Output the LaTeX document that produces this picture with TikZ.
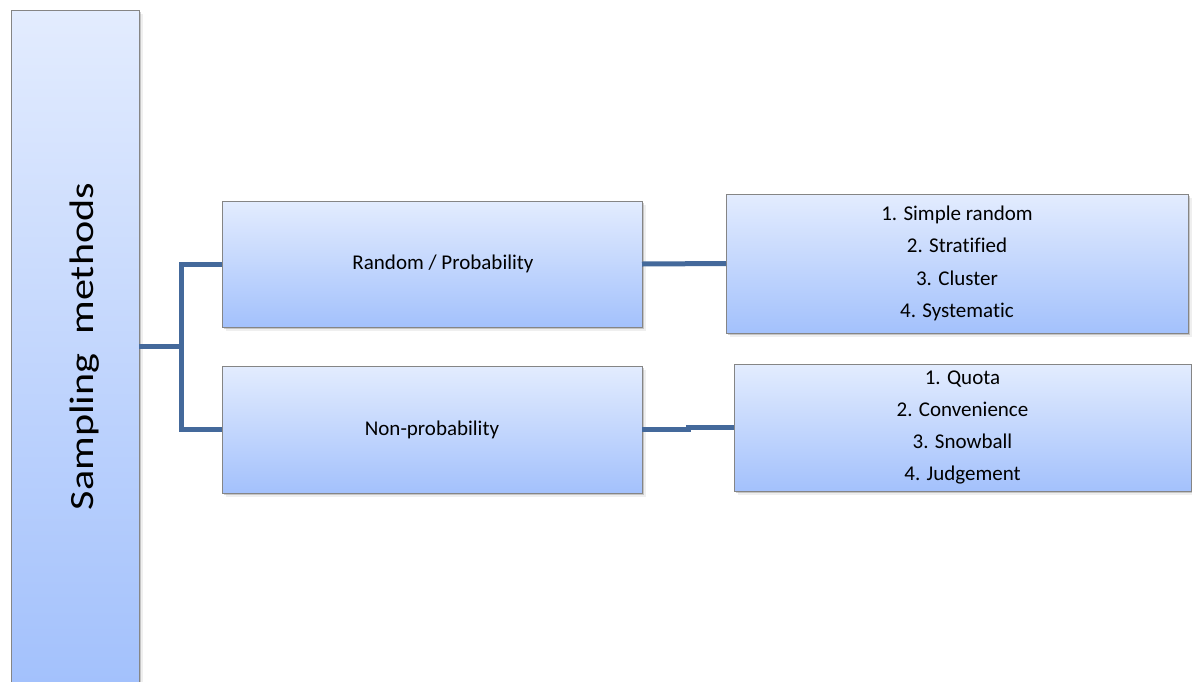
\documentclass[tikz,border=0pt]{standalone}
\usepackage{fontspec}
\setmainfont[Ligatures=NoCommon]{Carlito}
\usetikzlibrary{shadows}

\definecolor{boxtop}{HTML}{E3ECFE}
\definecolor{boxbottom}{HTML}{A3C1FC}
\definecolor{boxedge}{HTML}{858585}
\definecolor{linkblue}{HTML}{44699B}

\tikzset{
  card/.style={
    rectangle, draw=boxedge, line width=1pt,
    top color=boxtop, bottom color=boxbottom,
    drop shadow={shadow xshift=2pt, shadow yshift=-2pt, opacity=0.30, fill=black!60},
    drop shadow={shadow xshift=4pt, shadow yshift=-4pt, opacity=0.10, fill=black!60},
    inner sep=0pt, outer sep=0pt
  },
  cardtext/.style={font=\fontsize{21}{24}\selectfont, text=black, inner sep=0pt},
  listtext/.style={font=\fontsize{21}{32.3}\selectfont, align=center, text=black, inner sep=0pt},
  link/.style={draw=linkblue, line width=5pt}
}

\begin{document}
\begin{tikzpicture}[x=1pt, y=-1pt]
  \clip (0,0) rectangle (1192,681);
  \fill[white] (0,0) rectangle (1192,681);

  % root column
  \node[card, minimum width=128pt, minimum height=673pt] (root) at (75,346.5) {};
  \node[anchor=base, rotate=90, inner sep=0pt] (roottext) at (93,346.5)
    {\scalebox{1.24}[1]{\fontsize{34}{40}\selectfont Sampling\ \ methods}};

  % the two families
  \node[card, minimum width=420pt, minimum height=126pt] (rp) at (432,264) {};
  \node[cardtext] (rptext) at ([xshift=11pt]rp.center) {Random / Probability};

  \node[card, minimum width=420pt, minimum height=127pt] (np) at (432,429.5) {};
  \node[cardtext] (nptext) at (np.center) {Non-probability};

  % the method lists
  \node[card, minimum width=462pt, minimum height=139pt] (rplist) at (957,263.5) {};
  \node[listtext] (rplisttext) at (rplist.center)
    {1. Simple random\\2. Stratified\\3. Cluster\\4. Systematic};

  \node[card, minimum width=457pt, minimum height=127pt] (nplist) at (962.5,427.5) {};
  \node[listtext] (nplisttext) at (nplist.center)
    {1. Quota\\2. Convenience\\3. Snowball\\4. Judgement};

  % connectors
  \coordinate (fork) at (181,346.5);
  \draw[link] (root.east) -- (fork);
  \draw[link] (rp.west) -| (fork) |- (np.west);
  \draw[link] (rp.east) -- (rplist.west);
  \draw[link] (np.east) -- ++(46,0) |- (nplist.west);
\end{tikzpicture}
\end{document}
